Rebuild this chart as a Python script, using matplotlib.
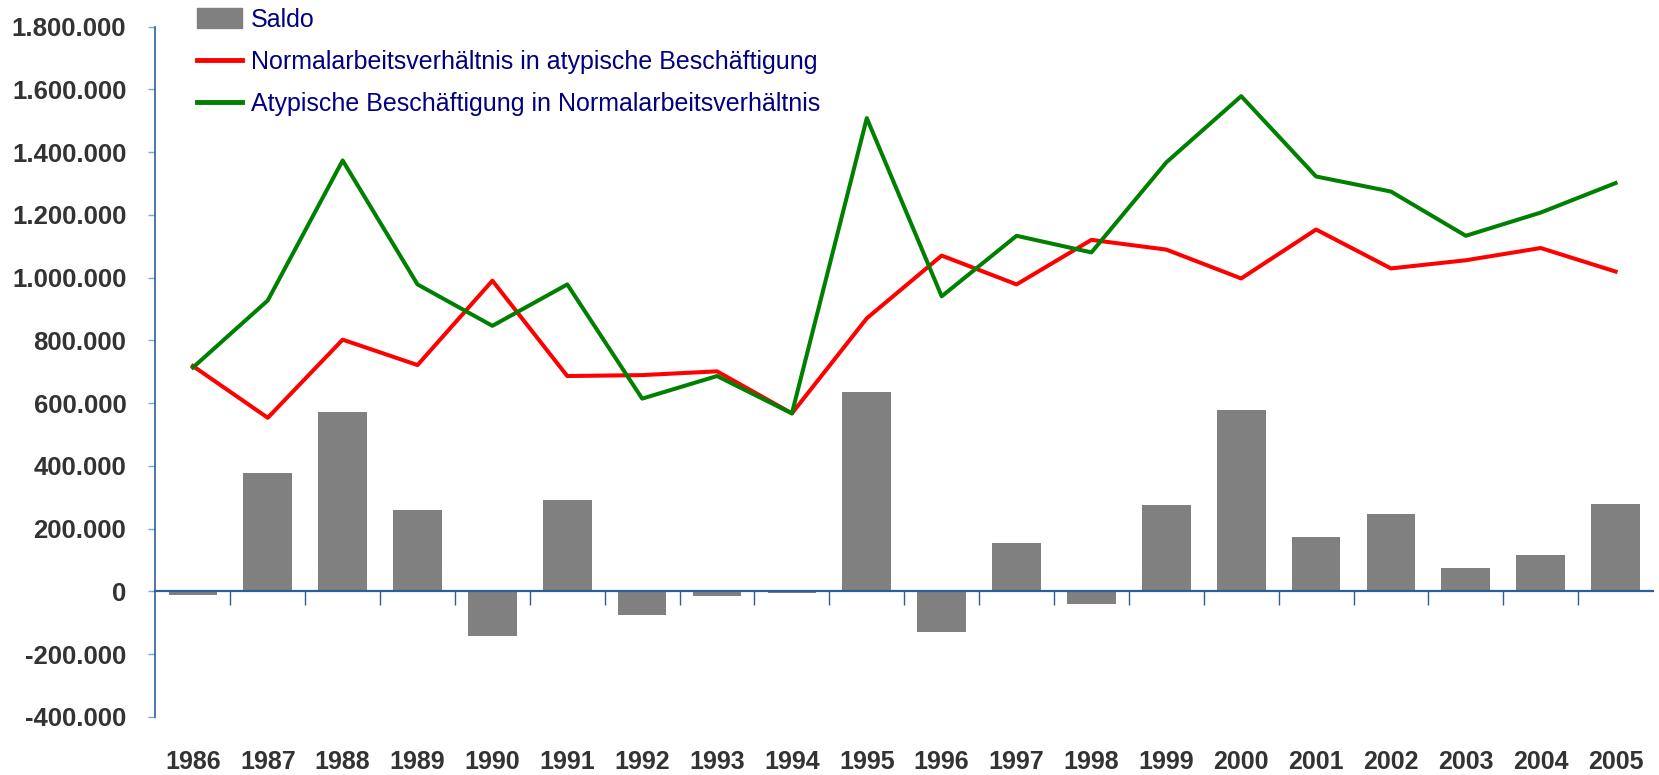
import matplotlib
matplotlib.use('Agg')
import matplotlib.pyplot as plt
from matplotlib.patches import Patch
from matplotlib.lines import Line2D
from matplotlib.ticker import FuncFormatter

jahre = ['1986', '1987', '1988', '1989', '1990', '1991', '1992', '1993', '1994', '1995',
         '1996', '1997', '1998', '1999', '2000', '2001', '2002', '2003', '2004', '2005']

saldo = [-12000, 378000, 570000, 258000, -143000, 290000, -76000, -16000, -5000, 636000,
         -129000, 153000, -41000, 274000, 579000, 172000, 245000, 73000, 115000, 277000]

normal_zu_atypisch = [718000, 553000, 802000, 721000, 990000, 686000, 689000, 701000, 567000, 870000,
                      1070000, 978000, 1120000, 1089000, 997000, 1153000, 1029000, 1055000, 1094000, 1019000]

atypisch_zu_normal = [713000, 927000, 1373000, 978000, 846000, 978000, 614000, 686000, 567000, 1508000,
                      940000, 1133000, 1080000, 1367000, 1578000, 1322000, 1274000, 1133000, 1207000, 1301000]

labels = ['Saldo',
          'Normalarbeitsverhältnis in atypische Beschäftigung',
          'Atypische Beschäftigung in Normalarbeitsverhältnis']

schrift = ['Liberation Sans', 'DejaVu Sans']
achsenfarbe = '#2a6099'

fig = plt.figure(figsize=(16.59, 7.75), dpi=100)
ax = fig.add_axes([0.0937, 0.0751, 0.9027, 0.8907])

x = list(range(len(jahre)))
ax.bar(x, saldo, width=0.65, color='#808080', zorder=2)
ax.plot(x, normal_zu_atypisch, color='#ff0000', lw=2.9, zorder=3)
ax.plot(x, atypisch_zu_normal, color='#008000', lw=2.9, zorder=3)

ax.set_xlim(-0.5, len(jahre) - 0.5)
ax.set_ylim(-400000, 1800000)
ax.set_yticks(range(-400000, 1800001, 200000))
ax.yaxis.set_major_formatter(FuncFormatter(lambda v, p: f'{int(v):,}'.replace(',', '.')))
for t in ax.get_yticklabels():
    t.set_family(schrift)
    t.set_fontweight('bold')
    t.set_fontsize(18.5)
    t.set_color('#333333')
ax.tick_params(axis='y', length=5, width=1, color='#7fa7cc', pad=16)

for s in ['top', 'right']:
    ax.spines[s].set_visible(False)
ax.spines['left'].set_color(achsenfarbe)
ax.spines['left'].set_linewidth(1.2)
ax.spines['bottom'].set_position(('data', 0))
ax.spines['bottom'].set_color(achsenfarbe)
ax.spines['bottom'].set_linewidth(1.6)
ax.spines['bottom'].set_zorder(4)

# Trennstriche zwischen den Jahren an der Nulllinie
ax.set_xticks([i + 0.5 for i in x[:-1]])
ax.set_xticklabels([])
ax.tick_params(axis='x', length=10, width=1, color=achsenfarbe, direction='out')

# Jahreszahlen unten
sec = ax.secondary_xaxis('bottom')
sec.set_xticks(x)
sec.set_xticklabels(jahre)
sec.spines['bottom'].set_visible(False)
sec.tick_params(length=0, pad=24)
for t in sec.get_xticklabels():
    t.set_family(schrift)
    t.set_fontweight('bold')
    t.set_fontsize(18)
    t.set_color('#333333')

handles = [Patch(color='#808080'),
           Line2D([], [], color='#ff0000', lw=3.5),
           Line2D([], [], color='#008000', lw=3.5)]
leg = ax.legend(handles, labels, loc='upper left', bbox_to_anchor=(0.028, 1.027),
                frameon=False, handlelength=1.8, handleheight=0.85, handletextpad=0.35,
                labelspacing=0.72, borderpad=0, borderaxespad=0,
                prop={'family': schrift, 'size': 18})
for t in leg.get_texts():
    t.set_color('#000080')

fig.savefig('out.png', dpi=100)
